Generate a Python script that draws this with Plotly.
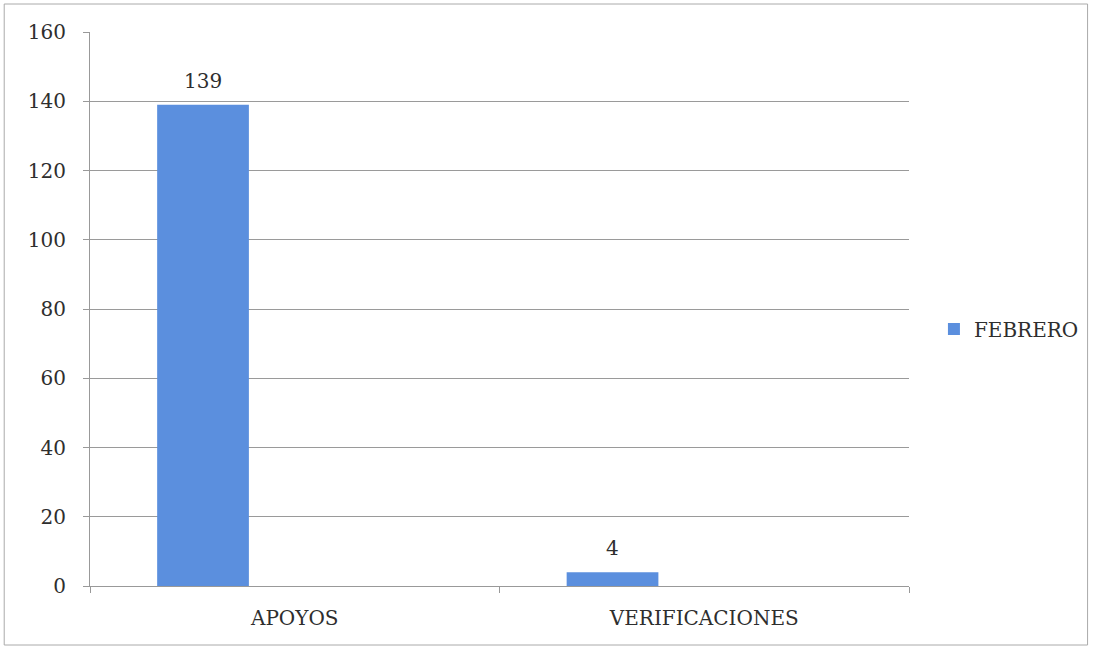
import plotly.graph_objects as go

categories = ["APOYOS", "VERIFICACIONES"]
febrero = [139, 4]
series_name = "FEBRERO"

L, R, T, B = 90, 185, 32, 62
W, H = 1096, 648
pw, ph = W - L - R, H - T - B

def px_x(x):
    return (x - L) / pw

def px_y(y):
    return (H - B - y) / ph

font_family = "DejaVu Serif"
fs = 20
txt = "#2e2e2e"

bar_width = 0.224
bar_offset = -0.336
cat_px = pw / len(categories)
label_shift = (bar_offset + bar_width / 2) * cat_px

fig = go.Figure()
fig.add_trace(go.Bar(
    x=categories, y=febrero, name=series_name,
    marker=dict(color="#5b8fde", line=dict(width=0)),
    width=bar_width, offset=bar_offset,
    showlegend=True,
))

for c, v in zip(categories, febrero):
    fig.add_annotation(x=c, y=v, text=str(v), showarrow=False,
                       xshift=label_shift, yanchor="bottom", yshift=10,
                       font=dict(size=fs, color=txt, family=font_family))

fig.update_layout(
    width=W, height=H,
    margin=dict(l=L, r=R, t=T, b=B),
    paper_bgcolor="white", plot_bgcolor="white",
    font=dict(family=font_family, size=fs, color=txt),
    showlegend=True,
    legend=dict(x=px_x(936), y=px_y(329), xanchor="left", yanchor="middle",
                font=dict(size=fs, color=txt), itemwidth=30,
                bgcolor="rgba(0,0,0,0)"),
    xaxis=dict(type="category", showline=True, linecolor="#999999", linewidth=1,
               ticks="outside", tickson="boundaries", ticklen=6, tickcolor="#999999",
               ticklabelstandoff=14,
               showgrid=False, tickfont=dict(size=fs, color=txt)),
    yaxis=dict(range=[0, 160], dtick=20, showline=True, linecolor="#999999", linewidth=1,
               ticks="outside", ticklen=6, tickcolor="#999999",
               ticklabelstandoff=13,
               gridcolor="#9a9a9a", gridwidth=1, zeroline=False,
               tickfont=dict(size=fs, color=txt)),
    shapes=[dict(type="rect", xref="paper", yref="paper",
                 x0=px_x(4), x1=px_x(1090), y0=px_y(645), y1=px_y(4),
                 line=dict(color="#aaaaaa", width=1), layer="below")],
)

fig.write_html("out.html", config={"displayModeBar": False},
               post_script="document.body.style.margin='0';document.body.style.padding='0';")
